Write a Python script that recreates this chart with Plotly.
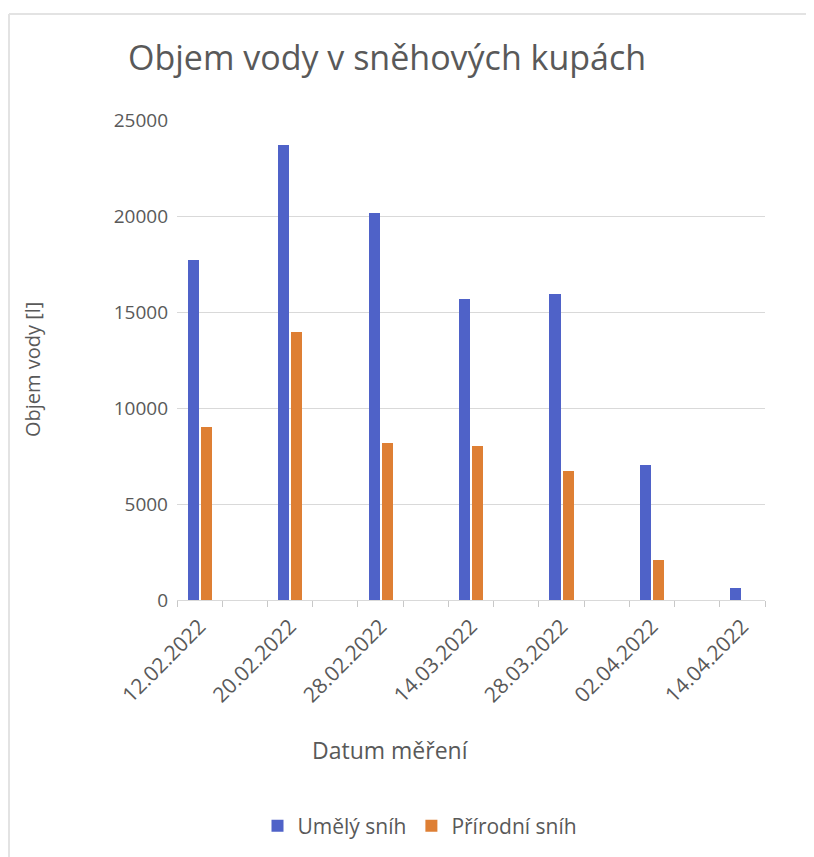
import plotly.graph_objects as go

dates = ["12.02.2022", "20.02.2022", "28.02.2022", "14.03.2022", "28.03.2022", "02.04.2022", "14.04.2022"]
umely = [17700, 23700, 20150, 15700, 15950, 7050, 600]
prirodni = [9000, 13980, 8180, 8030, 6720, 2090, 0]
positions = [0, 2, 4, 6, 8, 10, 12]

BLUE = "#4f62c8"
ORANGE = "#de7f34"
GRAY = "#595959"
FONT = "Open Sans"

OFF = 8  # default body margin of the page
W, H = 814 - OFF, 857 - OFF
# target pixel geometry in the window, converted to figure coordinates
L, R, T, B = 177 - OFF, 765 - OFF, 120 - OFF, 600 - OFF
pw, ph = R - L, B - T


def px(x):
    return (x - OFF - L) / pw


def py(y):
    return (B - (y - OFF)) / ph


fig = go.Figure()
fig.add_trace(go.Bar(x=positions, y=umely, name="Umělý sníh", marker_color=BLUE,
                     width=0.245, offset=-0.265, marker_line_width=0))
fig.add_trace(go.Bar(x=positions, y=prirodni, name="Přírodní sníh", marker_color=ORANGE,
                     width=0.245, offset=0.025, marker_line_width=0))

boundary_ticks = [i - 0.5 for i in range(len(positions) * 2)]
xrange = [-0.5, len(positions) * 2 - 1.5]

fig.update_layout(
    width=W, height=H,
    margin=dict(l=L, r=W - R, t=T, b=H - B, autoexpand=False),
    paper_bgcolor="white", plot_bgcolor="white",
    font=dict(family=FONT, color=GRAY, size=19),
    showlegend=True,
    legend=dict(orientation="h", x=px(420), xanchor="center", y=py(826), yanchor="middle",
                font=dict(size=21, color=GRAY), itemwidth=30, tracegroupgap=0),
    bargap=0,
    xaxis2=dict(overlaying="x", matches="x", side="bottom", range=xrange,
                tickmode="array", tickvals=boundary_ticks, showticklabels=False,
                ticks="outside", ticklen=6, tickwidth=1, tickcolor="#c8c8c8", showgrid=False,
                zeroline=False, showline=False),
)
# invisible helper trace so the overlay axis with boundary ticks is drawn
fig.add_trace(go.Scatter(x=[xrange[0]], y=[0], xaxis="x2", mode="markers",
                         marker=dict(opacity=0), showlegend=False, hoverinfo="skip"))

fig.layout.xaxis.update(range=xrange, tickmode="array", tickvals=positions, ticktext=dates,
                        tickangle=-45, ticks="", showgrid=False, zeroline=False,
                        showline=True, linecolor="#d9d9d9", linewidth=1,
                        ticklabelstandoff=5,
                        tickfont=dict(size=21, color=GRAY))
fig.update_yaxes(
    range=[0, 25000], tickmode="linear", tick0=0, dtick=5000, tickformat="d",
    showgrid=True, gridcolor="#d9d9d9", gridwidth=1, zeroline=False,
    showline=False, ticks="", tickfont=dict(size=19, color=GRAY),
    ticklabelstandoff=8,
)

# title
fig.add_annotation(text="Objem vody v sněhových kupách", xref="paper", yref="paper",
                   x=px(126), y=py(57), xanchor="left", yanchor="middle", showarrow=False,
                   font=dict(size=34, color=GRAY, family=FONT))
# axis titles (positioned as in the reference)
fig.add_annotation(text="Objem vody [l]", xref="paper", yref="paper",
                   x=px(32), y=py(370), xanchor="center", yanchor="middle", showarrow=False,
                   textangle=-90, font=dict(size=20, color=GRAY, family=FONT))
fig.add_annotation(text="Datum měření", xref="paper", yref="paper",
                   x=px(390), y=py(750), xanchor="center", yanchor="middle", showarrow=False,
                   font=dict(size=23, color=GRAY, family=FONT))

# chart-area border (partially visible)
border = "#e3e3e3"
fig.add_shape(type="line", xref="paper", yref="paper", x0=px(9), x1=px(9), y0=py(870), y1=py(14),
              line=dict(color=border, width=2))
fig.add_shape(type="line", xref="paper", yref="paper", x0=px(9), x1=px(830), y0=py(14), y1=py(14),
              line=dict(color=border, width=2))

fig.write_html("out.html")
